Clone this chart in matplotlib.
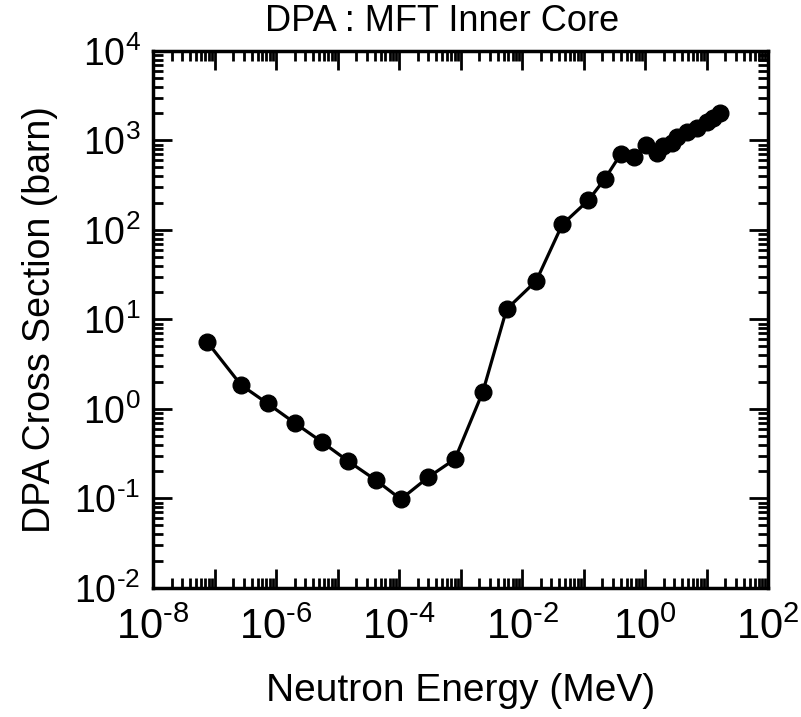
import matplotlib
matplotlib.use("Agg")
import matplotlib.pyplot as plt
import matplotlib.ticker as mticker
import numpy as np

# DPA cross section vs neutron energy
energy_mev = [7.6e-8, 2.7e-7, 7.3e-7, 2.0e-6, 5.5e-6, 1.5e-5, 4.2e-5, 1.07e-4,
              3.0e-4, 8.1e-4, 2.3e-3, 5.6e-3, 1.7e-2, 4.5e-2, 0.12, 0.22,
              0.40, 0.66, 1.05, 1.55, 1.98, 2.7, 3.3, 4.8, 6.9, 10.1, 12.9, 16.6]
dpa_barn = [5.6, 1.85, 1.15, 0.70, 0.43, 0.26, 0.16, 0.098,
            0.173, 0.275, 1.55, 13.0, 27.0, 115.0, 215.0, 370.0,
            700.0, 650.0, 900.0, 720.0, 860.0, 940.0, 1100.0, 1250.0, 1380.0, 1600.0, 1800.0, 2050.0]

title = "DPA : MFT Inner Core"
xlabel = "Neutron Energy (MeV)"
ylabel = "DPA Cross Section (barn)"

fams = ["Liberation Sans Narrow", "Liberation Sans", "DejaVu Sans"]
plt.rcParams["font.family"] = fams
plt.rcParams["mathtext.fontset"] = "custom"
plt.rcParams["mathtext.rm"] = "Liberation Sans"
plt.rcParams["mathtext.it"] = "Liberation Sans"
plt.rcParams["mathtext.bf"] = "Liberation Sans"

fig = plt.figure(figsize=(8.01, 7.17), dpi=100)
ax = fig.add_axes([0.191, 0.180, 0.768, 0.749])

ax.plot(energy_mev, dpa_barn, "-o", color="black", lw=2.3, ms=12)

ax.set_xscale("log") ; ax.set_yscale("log")
ax.set_xlim(1e-8, 1e2) ; ax.set_ylim(1e-2, 1e4)

def sup(e):
    s = str(abs(e))
    if e < 0:
        s = "\u2010" + s
    return r"$10^{%s}$" % s

def fmt_x(v, pos):
    e = int(round(np.log10(v)))
    if e % 2:
        return ""
    return sup(e)

def fmt_y(v, pos):
    return sup(int(round(np.log10(v))))

ax.xaxis.set_major_locator(mticker.LogLocator(base=10, numticks=20))
ax.yaxis.set_major_locator(mticker.LogLocator(base=10, numticks=20))
ax.xaxis.set_minor_locator(mticker.LogLocator(base=10, subs=np.arange(2, 10), numticks=20))
ax.yaxis.set_minor_locator(mticker.LogLocator(base=10, subs=np.arange(2, 10), numticks=20))
ax.xaxis.set_major_formatter(mticker.FuncFormatter(fmt_x))
ax.yaxis.set_major_formatter(mticker.FuncFormatter(fmt_y))
ax.xaxis.set_minor_formatter(mticker.NullFormatter())
ax.yaxis.set_minor_formatter(mticker.NullFormatter())

ax.tick_params(which="both", direction="in", top=True, right=True, width=2)
ax.tick_params(which="major", length=14)
ax.tick_params(axis="x", which="major", pad=14, labelsize=30)
ax.tick_params(axis="y", which="major", pad=9, labelsize=27)
ax.tick_params(which="minor", length=7)
for s in ax.spines.values():
    s.set_linewidth(2.5)

ax.set_title(title, fontsize=26, pad=14, x=0.47)
ax.set_xlabel(xlabel, fontsize=28, labelpad=18)
ax.set_ylabel(ylabel, fontsize=27, labelpad=12)

fig.savefig("out.png", dpi=100)
